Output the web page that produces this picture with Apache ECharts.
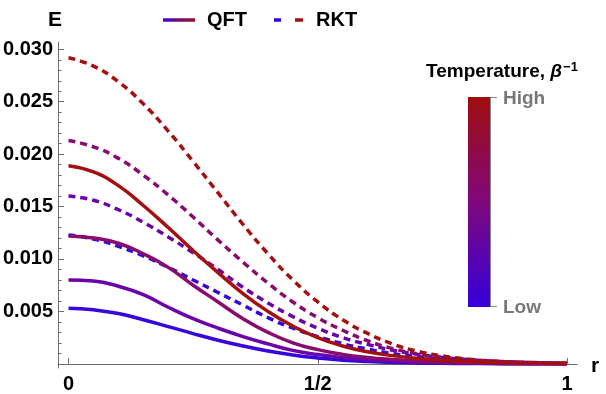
<!DOCTYPE html>
<html><head><meta charset="utf-8">
<script src="https://cdn.jsdelivr.net/npm/echarts@6/dist/echarts.min.js"></script>
<style>html,body{margin:0;padding:0;background:#fff}#c{width:606px;height:394px}</style>
</head><body><div id="c"></div>
<script>
// radial coordinate samples
const rValues = [0,0.05,0.10,0.15,0.20,0.25,0.30,0.35,0.40,0.45,0.50,0.55,0.60,0.65,0.70,0.75,0.80,0.85,0.90,0.95,1.00];
// QFT (solid), four temperatures low -> high
const qftT1 = [0.0053,0.00515,0.0048,0.0042,0.00355,0.00288,0.00225,0.0017,0.00122,0.00083,0.00055,0.00035,0.00022,0.00013,0.00008,0.00005,0.00003,0.00002,0.00001,0.00001,0.00001];
const qftT2 = [0.0080,0.0079,0.0074,0.0066,0.0054,0.0043,0.0034,0.0026,0.0019,0.00128,0.00088,0.0006,0.0004,0.00026,0.00016,0.0001,0.00006,0.00004,0.00002,0.00001,0.00001];
const qftT3 = [0.0122,0.0120,0.0115,0.0105,0.0092,0.0075,0.0059,0.0043,0.0030,0.0020,0.00135,0.0009,0.0006,0.0004,0.00025,0.00015,0.00009,0.00005,0.00003,0.00002,0.00001];
const qftT4 = [0.0189,0.0183,0.0170,0.0151,0.0130,0.0108,0.0087,0.0067,0.0050,0.0036,0.0025,0.0017,0.00115,0.00078,0.00052,0.00034,0.00022,0.00014,0.00008,0.00005,0.00003];
// RKT (dashed), four temperatures low -> high
const rktT1 = [0.0123,0.0119,0.0112,0.0103,0.0092,0.0080,0.0068,0.0056,0.0044,0.0034,0.0026,0.00192,0.0014,0.00098,0.00068,0.00046,0.0003,0.00019,0.00012,0.00007,0.00004];
const rktT2 = [0.0160,0.0156,0.0147,0.0135,0.0121,0.0106,0.0090,0.0073,0.0058,0.0045,0.0034,0.0025,0.00185,0.0013,0.0009,0.0006,0.0004,0.00026,0.00016,0.0001,0.00006];
const rktT3 = [0.0213,0.0207,0.0196,0.0180,0.0161,0.0140,0.0118,0.0097,0.0077,0.0059,0.0044,0.0032,0.0022,0.00145,0.00095,0.0006,0.00038,0.00024,0.00015,0.00009,0.00005];
const rktT4 = [0.0292,0.0284,0.0269,0.0248,0.0222,0.0193,0.0163,0.0133,0.0105,0.0080,0.0059,0.0042,0.0029,0.0019,0.0012,0.00075,0.00045,0.00027,0.00016,0.00009,0.00005];
// ticks
const xTickValues = [0, 0.5, 1];
const xTickLabels = ['0', '1/2', '1'];
const yTickValues = [0.005, 0.010, 0.015, 0.020, 0.025, 0.030];
const yMinorTickValues = [];
for (let k = 1; k <= 30; k++) yMinorTickValues.push(+(k * 0.001).toFixed(3));
const tempColors = ['#3606dc', '#6a04aa', '#880c6e', '#a3100f'];

const FONT = 'Liberation Sans, Arial, sans-serif';
const qft = [qftT1, qftT2, qftT3, qftT4];
const rkt = [rktT1, rktT2, rktT3, rktT4];
const pairs = arr => rValues.map((r, i) => [r, arr[i]]);

const series = [];
rkt.forEach((arr, i) => series.push({
  type: 'line', data: pairs(arr), showSymbol: false, smooth: 0.5, z: 2,
  lineStyle: { color: tempColors[i], width: 3.5, type: [7, 5], cap: 'butt' }
}));
qft.forEach((arr, i) => series.push({
  type: 'line', data: pairs(arr), showSymbol: false, smooth: 0.5, z: 3,
  lineStyle: { color: tempColors[i], width: 3.5 }
}));

const chart = echarts.init(document.getElementById('c'), null, { renderer: 'canvas' });
const axisGray = '#6e6e6e';
chart.setOption({
  animation: false,
  backgroundColor: '#fff',
  grid: { left: 55, right: 29, top: 42, bottom: 26 },
  xAxis: {
    type: 'value', min: -0.021, max: 1.02,
    axisLine: { onZero: true, lineStyle: { color: axisGray, width: 1 } },
    axisTick: { inside: true, length: 6, customValues: xTickValues, lineStyle: { color: axisGray } },
    axisLabel: { customValues: xTickValues, margin: 6, color: '#000', fontWeight: 'bold', fontSize: 20, fontFamily: FONT,
      formatter: v => xTickLabels[xTickValues.indexOf(v)] },
    splitLine: { show: false }
  },
  yAxis: [{
    type: 'value', min: -0.0004, max: 0.0307,
    axisLine: { show: true, onZero: false, lineStyle: { color: axisGray, width: 1 } },
    axisTick: { show: true, inside: true, length: 6, customValues: yTickValues, lineStyle: { color: axisGray } },
    axisLabel: { customValues: yTickValues, margin: 5, color: '#000', fontWeight: 'bold', fontSize: 20, fontFamily: FONT,
      formatter: v => v.toFixed(3) },
    splitLine: { show: false }
  }, {
    type: 'value', min: -0.0004, max: 0.0307, position: 'left',
    axisLine: { show: false, onZero: false },
    axisTick: { show: true, inside: true, length: 3.5, customValues: yMinorTickValues, lineStyle: { color: axisGray } },
    axisLabel: { show: false },
    splitLine: { show: false }
  }],
  series: series,
  graphic: [
    { type: 'text', x: 55, y: 20, style: { text: 'E', font: 'bold 21px ' + FONT, fill: '#000', align: 'center', verticalAlign: 'middle' } },
    { type: 'text', x: 595, y: 366, style: { text: 'r', font: 'bold 21px ' + FONT, fill: '#000', align: 'center', verticalAlign: 'middle' } },
    // legend
    { type: 'line', shape: { x1: 163, y1: 20, x2: 195, y2: 20 },
      style: { lineWidth: 3.5, stroke: new echarts.graphic.LinearGradient(0, 0, 1, 0, [{ offset: 0, color: tempColors[0] }, { offset: 1, color: tempColors[3] }], false) } },
    { type: 'text', x: 207, y: 20, style: { text: 'QFT', font: 'bold 20px ' + FONT, fill: '#000', align: 'left', verticalAlign: 'middle' } },
    { type: 'line', shape: { x1: 274, y1: 20, x2: 281, y2: 20 }, style: { lineWidth: 3.5, stroke: tempColors[0] } },
    { type: 'line', shape: { x1: 295, y1: 20, x2: 303, y2: 20 }, style: { lineWidth: 3.5, stroke: tempColors[3] } },
    { type: 'text', x: 316, y: 20, style: { text: 'RKT', font: 'bold 20px ' + FONT, fill: '#000', align: 'left', verticalAlign: 'middle' } },
    // colour bar
    { type: 'text', x: 502, y: 72, style: {
      text: 'Temperature, {b|β}{s|−1}', font: 'bold 19px ' + FONT, fill: '#000', align: 'center', verticalAlign: 'middle',
      rich: { b: { font: 'italic bold 19px ' + FONT, fill: '#000' }, s: { font: 'bold 13px ' + FONT, fill: '#000', verticalAlign: 'top', padding: [0, 0, 10, 1] } } } },
    { type: 'rect', shape: { x: 468, y: 97, width: 22, height: 210 },
      style: { fill: new echarts.graphic.LinearGradient(0, 0, 0, 1, [
        { offset: 0, color: '#a00e0e' }, { offset: 0.5, color: '#80087c' }, { offset: 1, color: '#3500dc' }], false) } },
    { type: 'line', shape: { x1: 490.5, y1: 97, x2: 490.5, y2: 307 }, style: { lineWidth: 1, stroke: '#888' } },
    { type: 'line', shape: { x1: 490, y1: 97.5, x2: 497, y2: 97.5 }, style: { lineWidth: 1, stroke: '#888' } },
    { type: 'line', shape: { x1: 490, y1: 306.5, x2: 497, y2: 306.5 }, style: { lineWidth: 1, stroke: '#888' } },
    { type: 'text', x: 503, y: 99, style: { text: 'High', font: 'bold 19px ' + FONT, fill: '#787878', align: 'left', verticalAlign: 'middle' } },
    { type: 'text', x: 503, y: 308, style: { text: 'Low', font: 'bold 19px ' + FONT, fill: '#787878', align: 'left', verticalAlign: 'middle' } }
  ]
});
</script>
</body></html>
